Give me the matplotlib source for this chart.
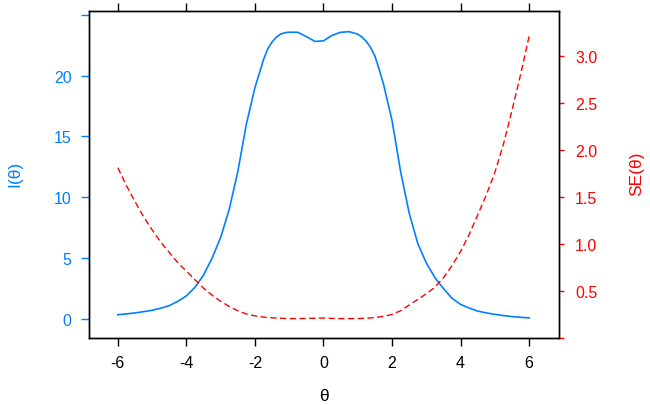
import numpy as np
import matplotlib.pyplot as plt

plt.rcParams['font.family'] = ['Liberation Sans', 'DejaVu Sans']

# theta grid
theta = [-6.0, -5.75, -5.5, -5.25, -5.0, -4.75, -4.5, -4.25, -4.0, -3.75,
         -3.5, -3.25, -3.0, -2.75, -2.5, -2.25, -2.0, -1.75, -1.625, -1.5,
         -1.375, -1.25, -1.125, -1.0, -0.75, -0.5, -0.25, 0.0, 0.25, 0.5,
         0.75, 1.0, 1.125, 1.25, 1.375, 1.5, 1.625, 1.75, 2.0, 2.25,
         2.5, 2.75, 3.0, 3.25, 3.5, 3.75, 4.0, 4.25, 4.5, 4.75,
         5.0, 5.25, 5.5, 5.75, 6.0]

# test information I(theta)
info = [0.35, 0.42, 0.5, 0.6, 0.72, 0.88, 1.1, 1.45, 1.9, 2.6,
        3.6, 5.0, 6.7, 9.0, 12.1, 16.0, 19.0, 21.3, 22.2, 22.75,
        23.15, 23.4, 23.52, 23.56, 23.55, 23.2, 22.8, 22.85, 23.3, 23.55,
        23.6, 23.4, 23.15, 22.8, 22.3, 21.6, 20.5, 19.3, 16.3, 12.1,
        8.7, 6.2, 4.6, 3.4, 2.5, 1.7, 1.2, 0.9, 0.65, 0.5,
        0.38, 0.28, 0.2, 0.14, 0.09]

# standard error SE(theta)
se = [1.81, 1.62, 1.45, 1.29, 1.15, 1.02, 0.91, 0.80, 0.71, 0.62,
      0.53, 0.455, 0.39, 0.335, 0.29, 0.255, 0.235, 0.222, 0.218, 0.215,
      0.212, 0.21, 0.208, 0.206, 0.206, 0.208, 0.21, 0.212, 0.208, 0.206,
      0.206, 0.207, 0.208, 0.21, 0.213, 0.218, 0.223, 0.23, 0.25, 0.29,
      0.35, 0.41, 0.47, 0.54, 0.64, 0.77, 0.92, 1.1, 1.31, 1.52,
      1.76, 2.06, 2.42, 2.8, 3.21]

x_ticks = [-6, -4, -2, 0, 2, 4, 6]
left_ticks = [0, 5, 10, 15, 20, 25]
left_labels = ['0', '5', '10', '15', '20', '']
right_ticks = [0.0, 0.5, 1.0, 1.5, 2.0, 2.5, 3.0]
right_labels = ['', '0.5', '1.0', '1.5', '2.0', '2.5', '3.0']

blue = '#0080ff'
red = '#ff0000'
fs = 11.5

fig = plt.figure(figsize=(6.5, 4.06), dpi=100)
ax = fig.add_axes([89/650, 67/406, 470/650, 327/406])
ax2 = ax.twinx()

ax.plot(theta, info, color=blue, lw=1.2)
ax2.plot(theta, se, color=red, lw=1.0, dashes=(4.5, 2.5))

ax.set_xlim(-6.84, 6.87)
ax.set_ylim(-1.56, 25.3)
ax2.set_ylim(0, 3.475)

ax.set_xticks(x_ticks)
ax.set_xticklabels([str(v) for v in x_ticks], fontsize=fs)
ax.tick_params(axis='x', direction='out', length=5.5, width=1, pad=7,
               top=True, labeltop=False, colors='black')
ax.set_yticks(left_ticks)
ax.set_yticklabels(left_labels, fontsize=fs)
ax.tick_params(axis='y', direction='out', length=5.5, width=1, pad=7,
               colors=blue)
ax2.set_yticks(right_ticks)
ax2.set_yticklabels(right_labels, fontsize=fs)
ax2.tick_params(axis='y', direction='out', length=3.5, width=1, pad=8,
                colors=red)

for a in (ax, ax2):
    for s in a.spines.values():
        s.set_color('black')
        s.set_linewidth(1)

fig.text(15/650, 1 - 174/406, 'I(\u03b8)', color=blue, fontsize=fs + 1,
         rotation=90, ha='center', va='center')
fig.text(637/650, 1 - 174/406, 'SE(\u03b8)', color=red, fontsize=fs + 1,
         rotation=90, ha='center', va='center')
fig.text(324/650, 1 - 397/406, '\u03b8', color='black', fontsize=fs + 1,
         ha='center', va='center')

fig.savefig('out.png', dpi=100)
